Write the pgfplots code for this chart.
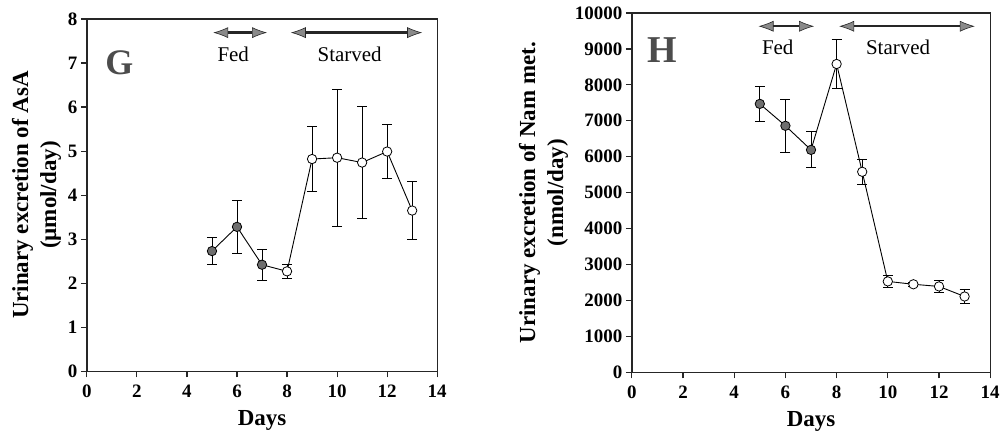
\documentclass[border=0pt]{standalone}
\usepackage{fontspec}
\setmainfont{Liberation Serif}
\usepackage{pgfplots}
\pgfplotsset{compat=1.18}
\usetikzlibrary{arrows.meta}

\definecolor{fedgray}{HTML}{6E6E6E}
\definecolor{arrgray}{HTML}{8A8A8A}

\pgfplotstableread{
x y e
5 2.73 0.30
6 3.28 0.60
7 2.42 0.35
8 2.27 0.16
9 4.82 0.73
10 4.85 1.56
11 4.74 1.28
12 4.99 0.62
13 3.65 0.65
}\tabG
\pgfplotstableread{
x y e
5 2.73 0.30
6 3.28 0.60
7 2.42 0.35
}\tabGfed
\pgfplotstableread{
x y e
8 2.27 0.16
9 4.82 0.73
10 4.85 1.56
11 4.74 1.28
12 4.99 0.62
13 3.65 0.65
}\tabGst

\pgfplotstableread{
x y e
5 7470 490
6 6860 730
7 6190 500
8 8580 690
9 5580 350
10 2530 160
11 2450 50
12 2390 170
13 2110 200
}\tabH
\pgfplotstableread{
x y e
5 7470 490
6 6860 730
7 6190 500
}\tabHfed
\pgfplotstableread{
x y e
8 8580 690
9 5580 350
10 2530 160
11 2450 50
12 2390 170
13 2110 200
}\tabHst

\tikzset{
  dblarrow/.style={
    {Latex[length=15pt,width=11pt,fill=arrgray,line width=0.6pt]}-{Latex[length=15pt,width=11pt,fill=arrgray,line width=0.6pt]},
    line width=2.4pt, black!85
  },
  txt/.style={font=\fontsize{21}{21}\selectfont},
}

\pgfplotsset{
  common/.style={
    scale only axis,
    axis line style={line width=1.4pt, black!85},
    xmin=0, xmax=14, xtick={0,2,...,14},
    tick align=outside, xtick pos=left, ytick pos=left,
    major tick length=6pt,
    tick style={line width=1.2pt, black!85},
    /pgf/number format/assume math mode=true,
    /pgf/number format/1000 sep={},
    ticklabel style={font=\fontsize{19}{19}\selectfont\bfseries},
    xticklabel style={yshift=-4pt},
    label style={font=\fontsize{23}{28}\selectfont\bfseries},
    xlabel={Days},
    xlabel style={yshift=-6pt},
    ylabel style={align=center},
    clip=false,
  },
  errs/.style={
    black, line width=0.9pt, mark=none,
    error bars/.cd, y dir=both, y explicit,
    error bar style={line width=0.9pt, black},
    error mark options={rotate=90, mark size=5pt, line width=0.9pt, black},
  },
}

\begin{document}
\begin{tikzpicture}[x=1pt,y=1pt]
\path (0,0) rectangle (1003,434);

\begin{axis}[common,
  at={(87pt,62pt)}, anchor=south west,
  width=351pt, height=353pt,
  ymin=0, ymax=8, ytick={0,1,...,8},
  ylabel={Urinary excretion of AsA\\(µmol/day)},
]
\draw[line width=1.4pt, black!85] (rel axis cs:0,1) -- (rel axis cs:1,1) -- (rel axis cs:1,0) -- (rel axis cs:0,0);
\addplot[errs] table[x=x,y=y,y error=e] {\tabG};
\addplot[only marks, mark=*, mark size=4.7pt, mark options={fill=fedgray, draw=black, line width=0.8pt}] table[x=x,y=y] {\tabGfed};
\addplot[only marks, mark=*, mark size=4.7pt, mark options={fill=white, draw=black, line width=0.8pt}] table[x=x,y=y] {\tabGst};
\draw[dblarrow] (axis cs:5.05,7.69) -- (axis cs:7.2,7.69);
\draw[dblarrow] (axis cs:8.15,7.69) -- (axis cs:13.4,7.69);
\node[txt] at (axis cs:5.85,7.2) {Fed};
\node[txt] at (axis cs:10.5,7.2) {Starved};
\node[font=\fontsize{36}{36}\selectfont\bfseries, text=black!70] at (axis cs:1.3,7.0) {G};
\end{axis}

\begin{axis}[common,
  at={(633pt,61pt)}, anchor=south west,
  width=359pt, height=360pt,
  ymin=0, ymax=10000, ytick={0,1000,...,10000},
  scaled y ticks=false,
  ylabel={Urinary excretion of Nam met.\\(nmol/day)},
]
\draw[line width=1.4pt, black!85] (rel axis cs:0,1) -- (rel axis cs:1,1) -- (rel axis cs:1,0) -- (rel axis cs:0,0);
\addplot[errs] table[x=x,y=y,y error=e] {\tabH};
\addplot[only marks, mark=*, mark size=4.7pt, mark options={fill=fedgray, draw=black, line width=0.8pt}] table[x=x,y=y] {\tabHfed};
\addplot[only marks, mark=*, mark size=4.7pt, mark options={fill=white, draw=black, line width=0.8pt}] table[x=x,y=y] {\tabHst};
\draw[dblarrow] (axis cs:4.95,9630) -- (axis cs:7.12,9630);
\draw[dblarrow] (axis cs:8.1,9630) -- (axis cs:13.4,9630);
\node[txt] at (axis cs:5.7,9050) {Fed};
\node[txt] at (axis cs:10.4,9050) {Starved};
\node[font=\fontsize{38}{38}\selectfont\bfseries, text=black!70] at (axis cs:1.2,8980) {H};
\end{axis}
\end{tikzpicture}
\end{document}
